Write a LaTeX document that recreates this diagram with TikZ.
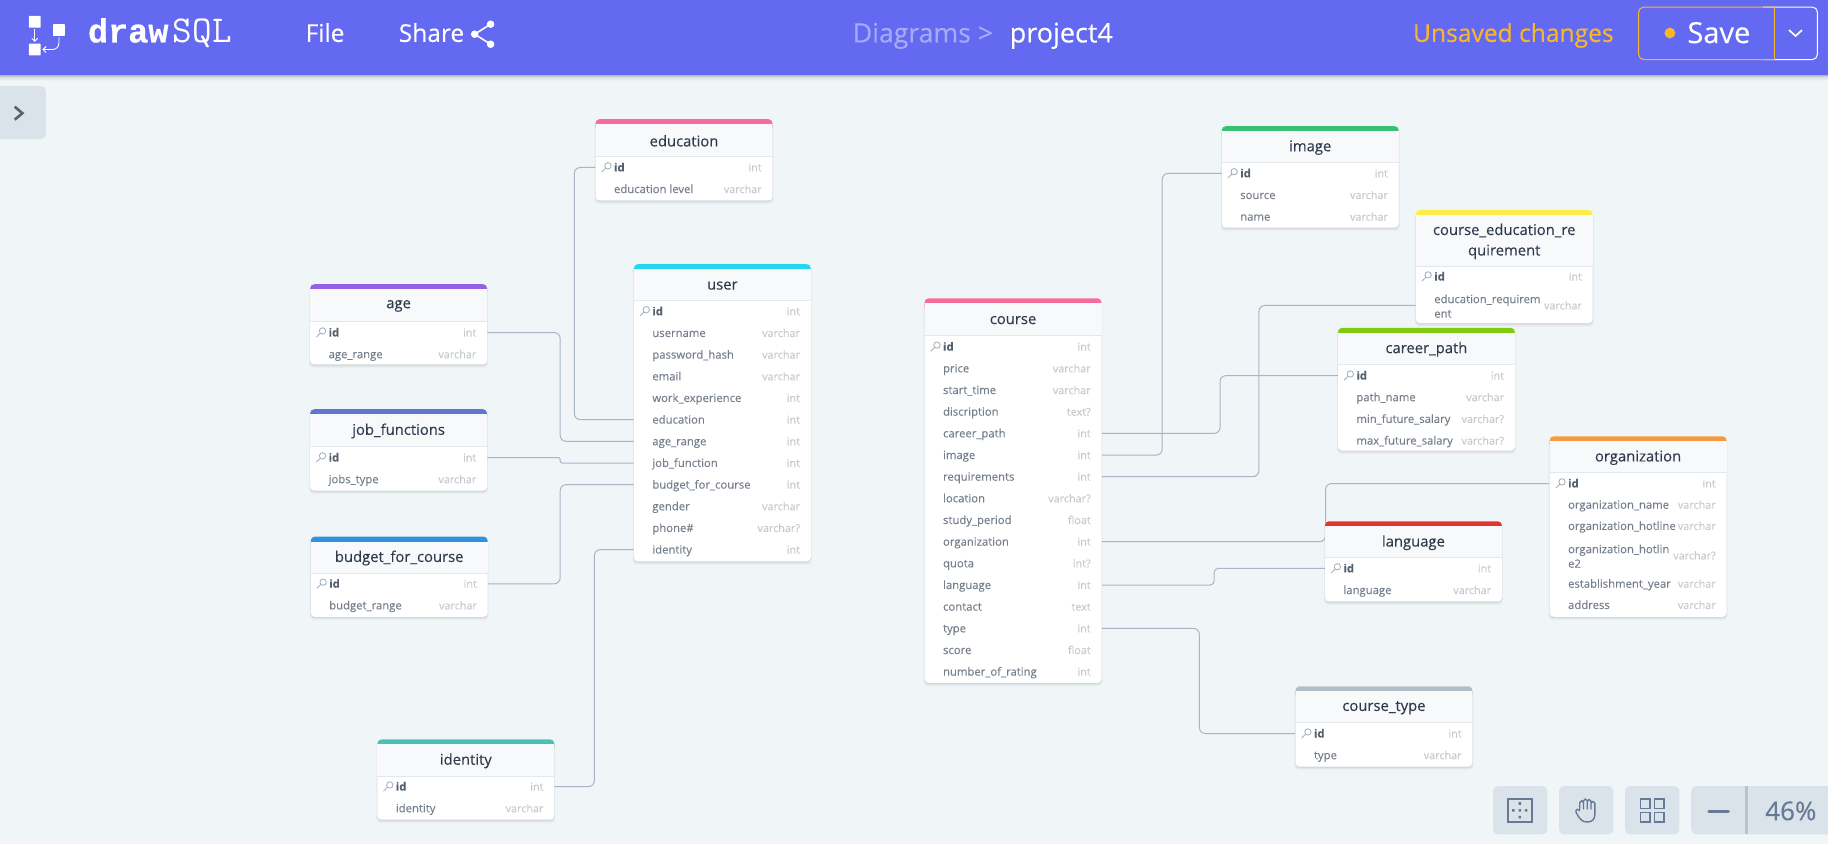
\documentclass[tikz,border=0pt]{standalone}
\usepackage{fontspec}
\setmainfont[FakeBold=0.12]{Open Sans}
\newfontfamily\barfont[FakeBold=0.25]{Open Sans}
\newfontfamily\slabfont[FakeBold=0.6]{Liberation Mono}
\usetikzlibrary{arrows.meta}
\definecolor{barblue}{HTML}{6469F2}
\definecolor{canvas}{HTML}{F0F5F8}
\definecolor{panel}{HTML}{DAE3E9}
\definecolor{panelink}{HTML}{667A95}
\definecolor{linkc}{HTML}{A9B4C6}
\definecolor{fieldc}{HTML}{767F8C}
\definecolor{idc}{HTML}{56616F}
\definecolor{typec}{HTML}{C8CACD}
\definecolor{titlec}{HTML}{2F3A4C}
\definecolor{headc}{HTML}{F7F9FB}
\definecolor{headline}{HTML}{E2E8EE}
\definecolor{keyc}{HTML}{A2ABB6}
\definecolor{warn}{HTML}{F8B72A}
\definecolor{dimc}{HTML}{A6ABF8}
\definecolor{pinkcard}{HTML}{F66D9B}
\definecolor{cyancard}{HTML}{22D7EE}
\definecolor{purplecard}{HTML}{9561E2}
\definecolor{indigocard}{HTML}{6574CD}
\definecolor{bluecard}{HTML}{3490DC}
\definecolor{tealcard}{HTML}{4DC0B5}
\definecolor{greencard}{HTML}{38C172}
\definecolor{yellowcard}{HTML}{FFED4A}
\definecolor{limecard}{HTML}{7FCB11}
\definecolor{orangecard}{HTML}{F6993F}
\definecolor{redcard}{HTML}{E3342F}
\definecolor{graycard}{HTML}{B0BEC5}
\pgfdeclarelayer{under}
\pgfsetlayers{under,main}
\tikzset{
  x=1.1793pt,y=-1.1793pt,
  rowspot/.style={inner sep=0pt,minimum width=176.9pt,minimum height=12pt},
  fieldtext/.style={anchor=west,inner sep=0pt,text=fieldc,font=\fontsize{11.3}{13.5}\selectfont,text height=10.4pt,text depth=2.5pt},
  idtext/.style={fieldtext,text=idc,font=\fontsize{11.3}{13.5}\selectfont\bfseries},
  wraptext/.style={anchor=west,inner sep=0pt,yshift=-.7pt,text=fieldc,font=\fontsize{11.3}{14.5}\selectfont,align=left},
  typetext/.style={anchor=east,inner sep=0pt,text=typec,font=\fontsize{10.8}{13}\selectfont,text height=10.4pt,text depth=2.5pt},
  cardtitle/.style={inner sep=0pt,yshift=-.8pt,text=titlec,font=\fontsize{14.8}{20.5}\selectfont,align=center},
  link/.style={draw=linkc,line width=1pt,rounded corners=6pt},
  keyline/.style={draw=keyc,line width=.8pt},
  baritem/.style={inner sep=0pt,anchor=base west,text=white,font=\barfont\fontsize{24.5}{26}\selectfont},
  tool/.style={fill=panel,rounded corners=5pt},
  ink/.style={draw=panelink,line width=1.6pt},
}
% id card colour x top headerbottom bottom title
\newcommand\card[7]{%
  \foreach \sh/\op in {3/.025,2/.04,1/.05}{
    \fill[black,opacity=\op,rounded corners=4pt] ({#3-.5*\sh+.5},{#4+2}) rectangle ({#3+150+.5*\sh-.5},{#6+\sh});
  }
  \fill[white,rounded corners=4pt] (#3,#4) rectangle ({#3+150},#6);
  \fill[#2,rounded corners=4pt] (#3,#4) rectangle ({#3+150},{#4+10});
  \fill[headc] (#3,{#4+4.2}) rectangle ({#3+150},#5);
  \draw[headline,line width=1pt] (#3,#5) -- ({#3+150},#5);
  \node[cardtitle] (#1-title) at ({#3+75},{(#4+#5)/2+2}) {#7};
}
% card x y
\newcommand\keyrow[3]{%
  \node[rowspot] (#1-id) at ({#2+75},#3) {};
  \draw[keyline] ({#2+10.5},{#3-1.4}) circle (2.7);
  \draw[keyline] ({#2+8.6},{#3+.6}) -- ({#2+5.2},{#3+3.8});
  \node[idtext] (#1-id-name) at ({#2+15.5},#3) {id};
  \node[typetext] (#1-id-type) at ({#2+141},#3) {int};
}
% card key x y field type
\newcommand\fieldrow[6]{%
  \node[rowspot] (#1-#2) at ({#3+75},#4) {};
  \node[fieldtext] (#1-#2-name) at ({#3+15.5},#4) {#5};
  \node[typetext] (#1-#2-type) at ({#3+141},#4) {#6};
}
% card x y-of-id list
\newcommand\rowlist[4]{%
  \keyrow{#1}{#2}{#3}
  \foreach \k/\f/\t [count=\i] in {#4}{
    \pgfmathsetmacro\yy{#3+\i*18.37}
    \fieldrow{#1}{\k}{#2}{\yy}{\f}{\t}
  }
}
% from to elbow-x
\newcommand\conn[4][]{%
  \coordinate (elbow) at (#4,0);
  \draw[link,#1] (#2) -- (#2 -| elbow) -- (#3 -| elbow) -- (#3);
}
\begin{document}
\begin{tikzpicture}
\useasboundingbox (0,0) rectangle (1567,715.7);
\begin{pgfonlayer}{under}
  \fill[white] (0,0) rectangle (1567,715.7);
  \fill[canvas] (0,0) rectangle (1550,715.7);
\end{pgfonlayer}

% ---------- cards
\card{education}{pinkcard}{505}{101}{132.5}{170}{education}
\rowlist{education}{505}{142}{level/education level/varchar}

\card{user}{cyancard}{537.5}{224}{255}{476}{user}
\rowlist{user}{537.5}{264}{username/username/varchar,hash/password\_hash/varchar,email/email/varchar,work/work\_experience/int,education/education/int,age/age\_range/int,job/job\_function/int,budget/budget\_for\_course/int,gender/gender/varchar,phone/phone\#/varchar?,identity/identity/int}

\card{age}{purplecard}{263}{241}{272.5}{309}{age}
\rowlist{age}{263}{282}{range/age\_range/varchar}

\card{job}{indigocard}{263}{347}{378.5}{416}{job\_functions}
\rowlist{job}{263}{388}{type/jobs\_type/varchar}

\card{budget}{bluecard}{263.5}{455}{486}{523}{budget\_for\_course}
\rowlist{budget}{263.5}{495}{range/budget\_range/varchar}

\card{identity}{tealcard}{320}{627}{658}{695}{identity}
\rowlist{identity}{320}{667}{identity/identity/varchar}

\card{course}{pinkcard}{784}{253}{284.5}{579}{course}
\rowlist{course}{784}{294}{price/price/varchar,start/start\_time/varchar,disc/discription/text?,career/career\_path/int,image/image/int,req/requirements/int,location/location/varchar?,period/study\_period/float,org/organization/int,quota/quota/int?,language/language/int,contact/contact/text,type/type/int,score/score/float,rating/number\_of\_rating/int}

\card{image}{greencard}{1036}{107}{138}{193}{image}
\rowlist{image}{1036}{147}{source/source/varchar,name/name/varchar}

\card{req}{yellowcard}{1200.5}{178}{226}{274}{course\_education\_re\\quirement}
\keyrow{req}{1200.5}{234.5}
\node[rowspot] (req-level) at ({1200.5+75},259) {};
\node[wraptext] (req-level-name) at ({1200.5+15.5},259) {education\_requirem\\ent};
\node[typetext] (req-level-type) at ({1200.5+141},259) {varchar};

\card{career}{limecard}{1134.5}{278}{309}{382}{career\_path}
\rowlist{career}{1134.5}{318.5}{name/path\_name/varchar,min/min\_future\_salary/varchar?,max/max\_future\_salary/varchar?}

\card{org}{orangecard}{1314}{370}{401}{523}{organization}
\keyrow{org}{1314}{410}
\fieldrow{org}{name}{1314}{428}{organization\_name}{varchar}
\fieldrow{org}{hot}{1314}{446}{organization\_hotline}{varchar}
\node[rowspot] (org-hot2) at ({1314+75},471) {};
\node[wraptext] (org-hot2-name) at ({1314+15.5},471) {organization\_hotlin\\e2};
\node[typetext] (org-hot2-type) at ({1314+141},471) {varchar?};
\fieldrow{org}{year}{1314}{495}{establishment\_year}{varchar}
\fieldrow{org}{addr}{1314}{513}{address}{varchar}

\card{lang}{redcard}{1123.5}{442}{473}{510}{language}
\rowlist{lang}{1123.5}{482}{name/language/varchar}

\card{ctype}{graycard}{1098.5}{582}{613}{650}{course\_type}
\rowlist{ctype}{1098.5}{622}{type/type/varchar}

% ---------- connectors
\begin{pgfonlayer}{under}
  \conn{education-id.west}{user-education.west}{487}
  \conn{age-id.east}{user-age.west}{475}
  \conn[rounded corners=2pt]{job-id.east}{user-job.west}{475}
  \conn{budget-id.east}{user-budget.west}{475}
  \conn{identity-id.east}{user-identity.west}{504}
  \conn{course-career.east}{career-id.west}{1034.5}
  \conn{course-image.east}{image-id.west}{985.5}
  \conn{course-req.east}{req-level.west}{1067.5}
  \conn{course-org.east}{org-id.west}{1124}
  \conn[rounded corners=4pt]{course-language.east}{lang-id.west}{1029.5}
  \conn{course-type.east}{ctype-id.west}{1017}
\end{pgfonlayer}

% ---------- top bar
\foreach \d/\op in {1/.10,2/.07,3/.05,4/.03,5/.015}{
  \fill[black,opacity=\op] (0,63.5) rectangle (1550,{63.5+\d});
}
\fill[barblue] (0,0) rectangle (1550,63.6);

% logo
\fill[white,rounded corners=.6pt] (24.5,13.5) rectangle (34.5,23.5);
\fill[white,rounded corners=.6pt] (45,20.5) rectangle (55,30.5);
\fill[white,rounded corners=.6pt] (24.5,37) rectangle (34.5,47);
\draw[white,line width=.9pt,-{Straight Barb[length=3pt,width=6pt]}] (29.5,24.5) -- (29.5,35.5);
\draw[white,line width=.9pt,-{Straight Barb[length=3pt,width=6pt]}] (50,31.5) -- (50,36) .. controls (50,40) and (47.5,42) .. (44,42) -- (36,42);

\node[baritem,font=\slabfont\bfseries\fontsize{33.5}{36}\selectfont] (wordA) at (74.5,36) {draw};
\node[baritem,font=\ttfamily\fontsize{38}{40}\selectfont] (wordB) at (146.5,36) {SQL};
\node[baritem] (file) at (259,35.5) {File};
\node[baritem] (share) at (338,35.5) {Share};
\draw[white,line width=1.6pt] (416,20.5) -- (402.5,29) -- (416,37.5);
\fill[white] (416,20.5) circle (3.2) (402.5,29) circle (3.2) (416,37.5) circle (3.2);

\node[baritem,text=dimc,font=\barfont\fontsize{26.6}{28}\selectfont] (crumb) at (723,36) {Diagrams >};
\node[baritem,font=\barfont\fontsize{27}{28}\selectfont] (proj) at (856,36) {project4};
\node[baritem,anchor=base east,text=warn,font=\barfont\fontsize{24.6}{26}\selectfont] (unsaved) at (1368.5,35.5) {Unsaved changes};

% save button
\draw[white,line width=1pt,rounded corners=5pt] (1495,6) -- (1541,6) -- (1541,50.5) -- (1495,50.5);
\draw[warn,line width=1pt,rounded corners=5pt] (1504.5,50.5) -- (1389.5,50.5) -- (1389.5,6) -- (1504.5,6);
\draw[warn,line width=1pt] (1504.5,6) -- (1504.5,50.5);
\fill[warn] (1416,28) circle (4.6);
\node[baritem,anchor=base,font=\barfont\fontsize{29}{30}\selectfont] (save) at (1457.5,36.5) {Save};
\draw[white,line width=1.7pt] (1517,25.5) -- (1522.5,30.5) -- (1528,25.5);

% side toggle
\fill[panel,rounded corners=5pt] (-10,73) rectangle (39,118);
\draw[draw=idc,line width=2.6pt] (12.5,90.5) -- (19,96) -- (12.5,101.5);

% ---------- bottom tools
\fill[tool] (1266,666.5) rectangle (1312,707.5);
\draw[ink] (1278.5,677.5) rectangle (1299,697);
\fill[panelink] (1287.6,680.2) rectangle (1289.8,682.4) (1287.6,686) rectangle (1289.8,688.2) (1287.6,691.8) rectangle (1289.8,694) (1282.2,686) rectangle (1284.4,688.2) (1293,686) rectangle (1295.2,688.2);

\fill[tool] (1322,666.5) rectangle (1368,707.5);
\draw[ink,line width=1.4pt,line cap=round,line join=round]
  (1339.5,686) -- (1339.5,680.5) arc (180:360:1.6) -- (1342.7,686)
  (1342.7,680) -- (1342.7,679) arc (180:360:1.6) -- (1345.9,686)
  (1345.9,679.5) arc (180:360:1.6) -- (1349.1,686)
  (1349.1,681) arc (180:360:1.6) -- (1352.3,691) .. controls (1352.3,695) and (1349.5,697) .. (1346,697) .. controls (1342,697) and (1340,695) .. (1338.5,692.5) -- (1336.3,688.5) .. controls (1336,686) and (1338,685.5) .. (1339.5,687.5);

\fill[tool] (1378,666.5) rectangle (1424,707.5);
\draw[ink] (1391,677.5) rectangle (1399.2,685.5) (1402.8,677.5) rectangle (1411,685.5) (1391,689) rectangle (1399.2,697) (1402.8,689) rectangle (1411,697);

\fill[panel,rounded corners=5pt] (1434,666.5) rectangle (1560,707.5);
\fill[white] (1550,660) rectangle (1567,715.7);
\fill[panelink!30!panel] (1480,666.5) rectangle (1482.2,707.5);
\draw[panelink,line width=3.2pt,line cap=round] (1449,688) -- (1465.5,688);
\node[baritem,anchor=base,text=panelink,font=\barfont\fontsize{26}{28}\selectfont] (zoom) at (1518.5,695.5) {46\%};
\end{tikzpicture}
\end{document}
